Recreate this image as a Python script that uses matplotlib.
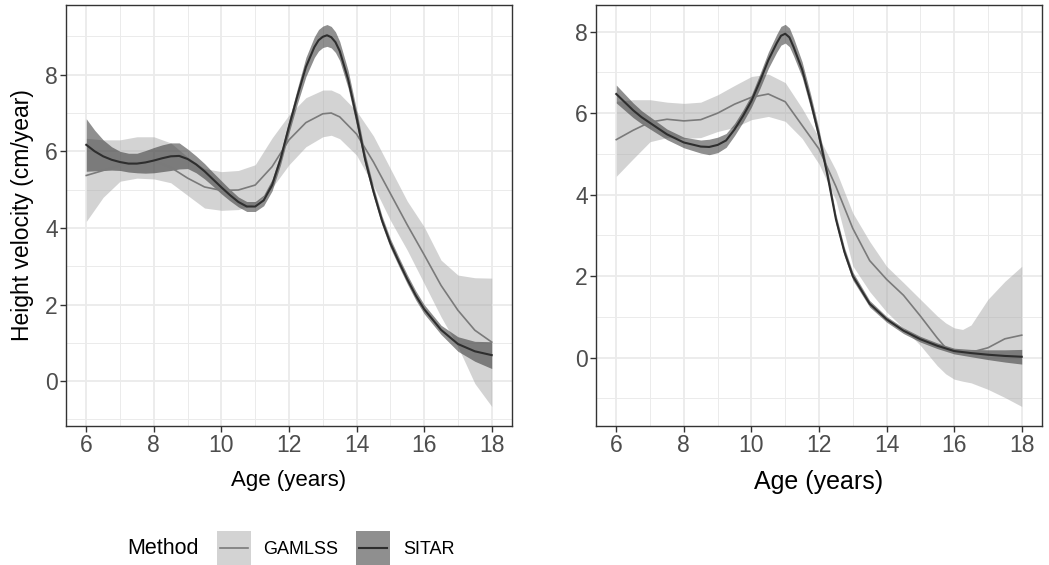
import matplotlib
matplotlib.use("Agg")
import matplotlib.pyplot as plt
from matplotlib.patches import Rectangle
from matplotlib.lines import Line2D

plt.rcParams['font.family'] = ['Liberation Sans', 'DejaVu Sans']

# ---------------- Data: left panel ----------------
L_sitar_age = [6.0, 6.25, 6.5, 6.75, 7.0, 7.25, 7.5, 7.75, 8.0, 8.25, 8.5, 8.75, 9.0,
               9.25, 9.5, 9.75, 10.0, 10.25, 10.5, 10.75, 11.0, 11.25, 11.5, 11.75,
               12.0, 12.25, 12.5, 12.75, 12.875, 13.0, 13.125, 13.25, 13.375, 13.5, 13.75,
               14.0, 14.25, 14.5, 14.75, 15.0, 15.25, 15.5, 15.75, 16.0, 16.5, 17.0, 17.5, 18.0]
L_sitar_fit = [6.17, 6.0, 5.87, 5.78, 5.72, 5.68, 5.68, 5.71, 5.76, 5.82, 5.87, 5.88, 5.80,
               5.66, 5.48, 5.27, 5.06, 4.86, 4.68, 4.56, 4.56, 4.72, 5.12, 5.80,
               6.65, 7.45, 8.2, 8.72, 8.9, 8.99, 9.03, 8.98, 8.85, 8.62, 7.88,
               6.88, 5.8, 4.95, 4.2, 3.6, 3.12, 2.66, 2.24, 1.88, 1.34, 0.97, 0.78, 0.68]
L_sitar_lo = [5.48, 5.49, 5.50, 5.51, 5.50, 5.46, 5.44, 5.43, 5.44, 5.47, 5.50, 5.54, 5.55,
              5.44, 5.28, 5.09, 4.89, 4.71, 4.55, 4.43, 4.43, 4.58, 4.97, 5.65,
              6.48, 7.25, 7.95, 8.45, 8.62, 8.71, 8.74, 8.70, 8.58, 8.37, 7.65,
              6.68, 5.64, 4.82, 4.08, 3.48, 3.0, 2.54, 2.12, 1.76, 1.22, 0.78, 0.52, 0.33]
L_sitar_hi = [6.85, 6.55, 6.30, 6.12, 6.0, 5.95, 5.95, 6.02, 6.10, 6.17, 6.22, 6.22, 6.06,
              5.88, 5.68, 5.45, 5.23, 5.01, 4.81, 4.69, 4.69, 4.86, 5.27, 5.95,
              6.82, 7.65, 8.45, 8.99, 9.18, 9.27, 9.31, 9.26, 9.12, 8.87, 8.11,
              7.08, 5.96, 5.08, 4.32, 3.72, 3.24, 2.78, 2.36, 2.0, 1.46, 1.16, 1.04, 1.03]

L_gam_age = [6.0, 6.5, 7.0, 7.5, 8.0, 8.5, 9.0, 9.5, 10.0, 10.5, 11.0, 11.5, 12.0,
             12.5, 13.0, 13.25, 13.5, 14.0, 14.5, 15.0, 15.5, 16.0, 16.5, 17.0, 17.5, 18.0]
L_gam_fit = [5.37, 5.5, 5.63, 5.72, 5.75, 5.58, 5.3, 5.07, 4.98, 4.99, 5.12, 5.6, 6.3,
             6.75, 6.98, 7.0, 6.9, 6.45, 5.72, 4.9, 4.08, 3.3, 2.5, 1.85, 1.33, 1.02]
L_gam_lo = [4.17, 4.8, 5.22, 5.3, 5.28, 5.18, 4.85, 4.52, 4.46, 4.48, 4.62, 5.05, 5.65,
            6.12, 6.38, 6.42, 6.33, 5.9, 5.1, 4.2, 3.42, 2.55, 1.68, 0.9, -0.06, -0.66]
L_gam_hi = [6.34, 6.3, 6.3, 6.38, 6.38, 6.22, 5.85, 5.55, 5.47, 5.5, 5.65, 6.35, 6.95,
            7.4, 7.6, 7.6, 7.5, 7.05, 6.4, 5.55, 4.7, 4.03, 3.16, 2.77, 2.70, 2.69]

# ---------------- Data: right panel ----------------
R_sitar_age = [6.0, 6.25, 6.5, 6.75, 7.0, 7.5, 8.0, 8.5, 8.75, 9.0, 9.25, 9.5, 9.75,
               10.0, 10.25, 10.5, 10.75, 10.875, 11.0, 11.125, 11.25, 11.5, 11.75, 12.0,
               12.25, 12.5, 12.75, 13.0, 13.5, 14.0, 14.5, 15.0, 15.5, 16.0, 16.5, 17.0,
               17.5, 18.0]
R_sitar_fit = [6.47, 6.27, 6.07, 5.9, 5.76, 5.48, 5.28, 5.18, 5.17, 5.22, 5.33, 5.6, 5.93,
               6.3, 6.78, 7.3, 7.72, 7.9, 7.95, 7.86, 7.62, 7.07, 6.3, 5.45,
               4.48, 3.4, 2.6, 2.0, 1.32, 0.94, 0.66, 0.45, 0.29, 0.16, 0.11, 0.07,
               0.04, 0.02]
R_sitar_lo = [6.25, 6.07, 5.89, 5.74, 5.61, 5.35, 5.15, 5.02, 4.98, 5.03, 5.16, 5.45, 5.78,
              6.15, 6.6, 7.1, 7.5, 7.67, 7.72, 7.63, 7.4, 6.88, 6.13, 5.3,
              4.35, 3.28, 2.49, 1.9, 1.24, 0.87, 0.59, 0.38, 0.22, 0.09, 0.02, -0.05,
              -0.11, -0.16]
R_sitar_hi = [6.69, 6.47, 6.25, 6.06, 5.91, 5.61, 5.41, 5.34, 5.36, 5.41, 5.5, 5.75, 6.08,
              6.45, 6.96, 7.5, 7.94, 8.13, 8.18, 8.09, 7.84, 7.26, 6.47, 5.6,
              4.61, 3.52, 2.71, 2.1, 1.4, 1.01, 0.73, 0.52, 0.36, 0.23, 0.2, 0.19,
              0.19, 0.2]

R_gam_age = [6.0, 6.5, 7.0, 7.5, 8.0, 8.5, 9.0, 9.5, 10.0, 10.5, 11.0, 11.5, 12.0, 12.5,
             13.0, 13.5, 14.0, 14.5, 15.0, 15.5, 15.75, 16.0, 16.25, 16.5, 17.0, 17.5, 18.0]
R_gam_fit = [5.35, 5.58, 5.78, 5.85, 5.81, 5.84, 6.0, 6.22, 6.39, 6.47, 6.28, 5.7, 5.12, 4.2,
             3.17, 2.38, 1.92, 1.53, 1.02, 0.48, 0.24, 0.14, 0.11, 0.13, 0.24, 0.46, 0.55]
R_gam_lo = [4.45, 4.88, 5.3, 5.4, 5.38, 5.4, 5.55, 5.65, 5.84, 5.92, 5.8, 5.38, 4.75, 3.86,
            2.25, 1.62, 1.12, 0.72, 0.3, -0.2, -0.4, -0.53, -0.58, -0.62, -0.78, -0.98, -1.2]
R_gam_hi = [6.29, 6.33, 6.33, 6.27, 6.24, 6.27, 6.45, 6.68, 6.9, 6.96, 6.75, 6.12, 5.4, 4.6,
            3.55, 2.85, 2.24, 1.84, 1.43, 1.02, 0.85, 0.73, 0.69, 0.8, 1.43, 1.87, 2.24]

methods = ["GAMLSS", "SITAR"]
x_ticks = [6, 8, 10, 12, 14, 16, 18]
y_ticks = [0, 2, 4, 6, 8]

# ---------------- Styles ----------------
W, H = 1049, 565
GAM_FILL, GAM_ALPHA = "#A8A8A8", 0.5
SIT_FILL, SIT_ALPHA = "#333333", 0.55
GAM_LINE, SIT_LINE = "#7A7A7A", "#2E2E2E"
GAM_LW, SIT_LW = 1.2, 1.5
TICK_COL = "#4D4D4D"
FRAME_COL = "#333333"

fig = plt.figure(figsize=(W / 100, H / 100), dpi=100)


def px_axes(x0, y0, x1, y1):
    return fig.add_axes([x0 / W, 1 - y1 / H, (x1 - x0) / W, (y1 - y0) / H])


def style(ax, ylim, minor_y, xlabel_size):
    ax.set_xlim(5.4, 18.6)
    ax.set_ylim(*ylim)
    ax.set_xticks(x_ticks)
    ax.set_yticks(y_ticks)
    ax.set_xticks([7, 9, 11, 13, 15, 17], minor=True)
    ax.set_yticks(minor_y, minor=True)
    ax.grid(which="major", color="#EBEBEB", lw=1.3)
    ax.grid(which="minor", color="#EBEBEB", lw=0.7)
    ax.set_axisbelow(True)
    for s in ax.spines.values():
        s.set_color(FRAME_COL)
        s.set_linewidth(1.0)
    ax.tick_params(which="major", length=4, width=1.0, color=FRAME_COL,
                   labelcolor=TICK_COL, labelsize=16.5, pad=2)
    ax.tick_params(which="minor", length=0)
    ax.set_xlabel("Age (years)", fontsize=xlabel_size, color="black", labelpad=9)


def draw(ax, g_age, g_fit, g_lo, g_hi, s_age, s_fit, s_lo, s_hi):
    ax.fill_between(g_age, g_lo, g_hi, color=GAM_FILL, alpha=GAM_ALPHA, lw=0)
    ax.fill_between(s_age, s_lo, s_hi, color=SIT_FILL, alpha=SIT_ALPHA, lw=0)
    ax.plot(g_age, g_fit, color=GAM_LINE, lw=GAM_LW, solid_joinstyle="round")
    ax.plot(s_age, s_fit, color=SIT_LINE, lw=SIT_LW, solid_joinstyle="round")


axL = px_axes(66, 5, 512, 426)
draw(axL, L_gam_age, L_gam_fit, L_gam_lo, L_gam_hi,
     L_sitar_age, L_sitar_fit, L_sitar_lo, L_sitar_hi)
style(axL, (-1.17, 9.82), [-1, 1, 3, 5, 7, 9], 16)
axL.set_ylabel("Height velocity (cm/year)", fontsize=16.5, color="black", labelpad=8)

axR = px_axes(596, 5, 1042, 426)
draw(axR, R_gam_age, R_gam_fit, R_gam_lo, R_gam_hi,
     R_sitar_age, R_sitar_fit, R_sitar_lo, R_sitar_hi)
style(axR, (-1.68, 8.655), [-1, 1, 3, 5, 7], 18)

# ---------------- Legend (bottom) ----------------
def fx(x):
    return x / W


def fy(y):
    return 1 - y / H


fig.text(fx(127), fy(549), "Method", fontsize=15.5, ha="left", va="center")
key_x = [217, 356]
lab_x = [263, 403]
fills = [(GAM_FILL, GAM_ALPHA), (SIT_FILL, SIT_ALPHA)]
lines = [(GAM_LINE, GAM_LW), (SIT_LINE, SIT_LW)]
for i, m in enumerate(methods):
    kx = key_x[i]
    fig.add_artist(Rectangle((fx(kx), fy(565)), 34 / W, 34 / H,
                             transform=fig.transFigure, facecolor=fills[i][0],
                             alpha=fills[i][1], lw=0))
    fig.add_artist(Line2D([fx(kx + 3), fx(kx + 31)], [fy(548), fy(548)],
                          transform=fig.transFigure, color=lines[i][0], lw=lines[i][1]))
    fig.text(fx(lab_x[i]), fy(549), m, fontsize=13, ha="left", va="center")

fig.savefig("out.png", dpi=100)
